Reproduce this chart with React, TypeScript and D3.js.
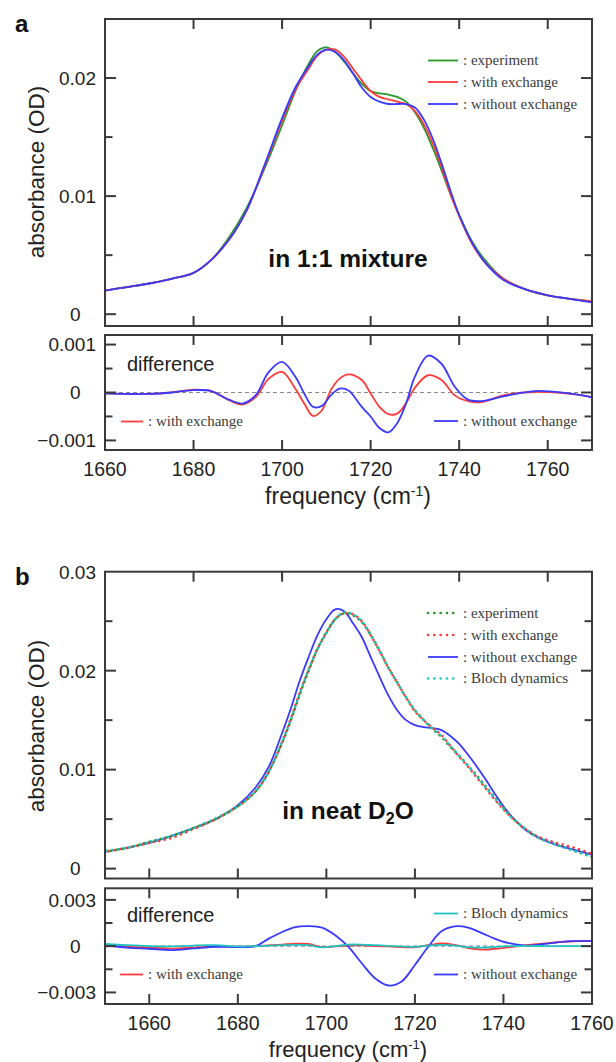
import React from "react";
import * as d3 from "d3";

// ---- panel a : in 1:1 mixture ----
const freqA = [1660,1665,1670,1675,1680,1684,1688,1692,1696,1700,1703,1706,1708,1710,1712,1714,1716,1718,1720,1722,1724,1726,1728,1730,1732,1734,1736,1738,1740,1743,1746,1750,1755,1760,1765,1770];
const expA = [0.0020,0.0023,0.0026,0.0030,0.0035,0.0046,0.0065,0.0090,0.0123,0.0160,0.0189,0.0212,0.0223,0.0226,0.0222,0.0214,0.0204,0.0195,0.0189,0.0187,0.0186,0.0184,0.0180,0.0171,0.0158,0.0141,0.0122,0.0102,0.0084,0.0061,0.0045,0.0030,0.0021,0.0016,0.0013,0.0011];
const withA = [0.0020,0.0023,0.0026,0.0030,0.0035,0.0046,0.0063,0.0088,0.0125,0.0164,0.0190,0.0208,0.0219,0.0224,0.0224,0.0218,0.0208,0.0198,0.0189,0.0184,0.0182,0.0180,0.0178,0.0172,0.0161,0.0145,0.0125,0.0102,0.0083,0.0059,0.0043,0.0030,0.0021,0.0016,0.0013,0.0011];
const withoutA = [0.0020,0.0023,0.0026,0.0030,0.0035,0.0046,0.0063,0.0088,0.0126,0.0166,0.0192,0.0210,0.0220,0.0224,0.0222,0.0215,0.0204,0.0192,0.0184,0.0180,0.0178,0.0178,0.0178,0.0175,0.0165,0.0149,0.0128,0.0105,0.0084,0.0060,0.0043,0.0029,0.0021,0.0016,0.0013,0.0010];

const freqDA = [1660,1665,1670,1675,1680,1684,1688,1691,1694,1697,1700,1703,1705,1707,1709,1711,1713,1715,1718,1720,1722,1724,1726,1728,1730,1733,1736,1739,1742,1745,1750,1757,1764,1770];
const diffWithA = [-0.00002,-0.00003,-0.00003,0.00000,0.00006,0.00003,-0.00016,-0.00025,-0.00010,0.00029,0.00043,0.00008,-0.00023,-0.00049,-0.00037,0.00005,0.00029,0.00038,0.00026,-0.00002,-0.00030,-0.00045,-0.00044,-0.00022,0.00010,0.00036,0.00026,-0.00006,-0.00018,-0.00020,-0.00006,0.00001,-0.00002,-0.00009];
const diffWithoutA = [-0.00002,-0.00003,-0.00003,0.00000,0.00005,0.00003,-0.00015,-0.00023,-0.00006,0.00043,0.00064,0.00033,-0.00002,-0.00030,-0.00028,-0.00006,0.00008,0.00004,-0.00030,-0.00050,-0.00074,-0.00083,-0.00064,-0.00023,0.00033,0.00077,0.00060,0.00012,-0.00015,-0.00018,-0.00008,0.00003,-0.00001,-0.00010];

// ---- panel b : in neat D2O ----
const freqB = [1650,1655,1660,1665,1670,1675,1680,1684,1687,1690,1692,1694,1696,1698,1700,1702,1704,1706,1708,1710,1712,1714,1716,1718,1720,1722,1724,1726,1728,1730,1732,1734,1736,1738,1740,1742,1745,1748,1752,1756,1760];
const expB = [0.0017,0.0021,0.0027,0.0033,0.0041,0.0050,0.0063,0.0078,0.0098,0.0127,0.0150,0.0176,0.0200,0.0222,0.0239,0.0252,0.0258,0.0256,0.0249,0.0236,0.0220,0.0203,0.0188,0.0173,0.0160,0.0150,0.0141,0.0133,0.0123,0.0114,0.0104,0.0094,0.0083,0.0072,0.0061,0.0051,0.0040,0.0031,0.0024,0.0018,0.0012];
const withB = [0.0017,0.0021,0.0026,0.0031,0.0040,0.0050,0.0063,0.0078,0.0098,0.0128,0.0152,0.0178,0.0201,0.0222,0.0238,0.0252,0.0258,0.0257,0.0250,0.0236,0.0220,0.0203,0.0188,0.0173,0.0159,0.0150,0.0142,0.0135,0.0124,0.0113,0.0103,0.0092,0.0081,0.0070,0.0060,0.0051,0.0040,0.0032,0.0026,0.0021,0.0015];
const withoutB = [0.0017,0.0021,0.0026,0.0033,0.0041,0.0050,0.0064,0.0082,0.0103,0.0137,0.0162,0.0190,0.0214,0.0236,0.0252,0.0262,0.0260,0.0248,0.0234,0.0214,0.0194,0.0175,0.0160,0.0150,0.0145,0.0143,0.0142,0.0140,0.0134,0.0126,0.0115,0.0103,0.0090,0.0076,0.0063,0.0052,0.0039,0.0031,0.0024,0.0019,0.0014];
const blochB = [0.0018,0.0021,0.0027,0.0033,0.0041,0.0051,0.0063,0.0078,0.0098,0.0128,0.0151,0.0177,0.0201,0.0222,0.0238,0.0252,0.0259,0.0257,0.0250,0.0237,0.0221,0.0203,0.0188,0.0173,0.0160,0.0150,0.0141,0.0134,0.0124,0.0114,0.0104,0.0093,0.0082,0.0071,0.0061,0.0051,0.0040,0.0031,0.0024,0.0018,0.0012];

const freqDB = [1650,1655,1660,1665,1670,1675,1680,1684,1687,1690,1693,1696,1699,1702,1705,1708,1711,1714,1717,1720,1723,1726,1729,1732,1735,1738,1741,1745,1750,1755,1760];
const diffWithB = [0.00006,-0.00003,-0.00009,-0.00016,-0.00010,-0.00002,-0.00004,0.00000,0.00005,0.00010,0.00016,0.00014,-0.00006,-0.00002,0.00004,0.00005,0.00000,-0.00002,-0.00006,-0.00008,0.00006,0.00018,0.00008,-0.00012,-0.00022,-0.00018,-0.00008,0.00006,0.00020,0.00030,0.00034];
const diffWithoutB = [0.00006,-0.00009,-0.00017,-0.00026,-0.00015,-0.00004,-0.00006,0.00000,0.00049,0.00092,0.00124,0.00130,0.00120,0.00071,-0.00004,-0.00111,-0.00208,-0.00255,-0.00229,-0.00122,-0.00004,0.00096,0.00128,0.00120,0.00086,0.00049,0.00021,0.00004,0.00017,0.00032,0.00034];
const diffBlochB = [0.00014,0.00006,0.00000,-0.00002,0.00004,0.00006,-0.00002,0.00000,0.00004,0.00006,0.00008,0.00006,-0.00008,0.00000,0.00010,0.00010,0.00006,0.00002,-0.00002,-0.00004,0.00004,0.00008,0.00004,-0.00006,-0.00010,-0.00006,0.00000,0.00002,0.00000,0.00000,0.00000];

const xLabels = [1660, 1680, 1700, 1720, 1740, 1760];

const GREEN = "#2a962a";
const RED = "#ff3a3a";
const BLUE = "#3a3aff";
const CYAN = "#20c2c2";
const FRAME = "#3a3a3a";
const SANS = "Liberation Sans, Arial, sans-serif";
const SERIF = "Liberation Serif, Times New Roman, serif";

const L = 105, R = 592;

type Series = { xs: number[]; ys: number[]; color: string; dotted?: boolean; offset?: number };

function Box(props: {
  id: string;
  x: d3.ScaleLinear<number, number>;
  y: d3.ScaleLinear<number, number>;
  topTicks: number[];
  bottomTicks: number[];
  yMajor: number[];
  yMinor: number[];
  yLabels: [number, string][];
  series: Series[];
  zero?: boolean;
}) {
  const { id, x, y } = props;
  const [y0, y1] = y.range();
  const line = (s: Series) =>
    d3.line<number>()
      .x((_, i) => x(s.xs[i]))
      .y((d) => y(d))
      .curve(d3.curveCatmullRom.alpha(0.5))(s.ys) || "";
  return (
    <g>
      <clipPath id={id}>
        <rect x={L} y={y1} width={R - L} height={y0 - y1} />
      </clipPath>
      {props.zero && (
        <line x1={L} x2={R} y1={y(0)} y2={y(0)} stroke="#8a8a8a" strokeWidth={1.2} strokeDasharray="4 3" />
      )}
      <g clipPath={`url(#${id})`}>
        {props.series.map((s, i) => (
          <path key={i} d={line(s)} fill="none" stroke={s.color}
            strokeWidth={s.dotted ? 2.6 : 1.8}
            strokeLinecap={s.dotted ? "round" : "butt"}
            strokeDasharray={s.dotted ? "0.1 5.6" : undefined}
            strokeDashoffset={s.offset || 0} />
        ))}
      </g>
      <rect x={L} y={y1} width={R - L} height={y0 - y1} fill="none" stroke={FRAME} strokeWidth={2} />
      {props.topTicks.map((t) => (
        <line key={"t" + t} x1={x(t)} x2={x(t)} y1={y1} y2={y1 + 10} stroke={FRAME} strokeWidth={2} />
      ))}
      {props.bottomTicks.map((t) => (
        <line key={"b" + t} x1={x(t)} x2={x(t)} y1={y0} y2={y0 - 10} stroke={FRAME} strokeWidth={2} />
      ))}
      {props.yMajor.map((t) => (
        <g key={"m" + t}>
          <line x1={L} x2={L + 11} y1={y(t)} y2={y(t)} stroke={FRAME} strokeWidth={2} />
          <line x1={R} x2={R - 11} y1={y(t)} y2={y(t)} stroke={FRAME} strokeWidth={2} />
        </g>
      ))}
      {props.yMinor.map((t) => (
        <g key={"n" + t}>
          <line x1={L} x2={L + 7.5} y1={y(t)} y2={y(t)} stroke={FRAME} strokeWidth={2} />
          <line x1={R} x2={R - 7.5} y1={y(t)} y2={y(t)} stroke={FRAME} strokeWidth={2} />
        </g>
      ))}
      {props.yLabels.map(([v, s]) => (
        <text key={"l" + v} x={v === 0 ? 80.5 : 96} y={y(v)} dy="0.36em" textAnchor="end"
          fontFamily={SANS} fontSize={19} fill="#222">{s}</text>
      ))}
    </g>
  );
}

function LegendRow(props: { x: number; y: number; color: string; label: string; dotted?: boolean; w?: number }) {
  const w = props.w || 30;
  return (
    <g>
      <line x1={props.x} x2={props.x + w} y1={props.y} y2={props.y} stroke={props.color}
        strokeWidth={props.dotted ? 2.6 : 1.8} strokeLinecap={props.dotted ? "round" : "butt"}
        strokeDasharray={props.dotted ? "0.1 6.2" : undefined} />
      <text x={props.x + w + 5} y={props.y + 4.5} fontFamily={SERIF} fontSize={15} fill="#3c3c3c">
        : {props.label}
      </text>
    </g>
  );
}

export default function App() {
  const xA = d3.scaleLinear().domain([1660, 1770]).range([L, R]);
  const xB = d3.scaleLinear().domain([1650, 1760]).range([L, R]);
  const yA = d3.scaleLinear().domain([-0.001, 0.025]).range([326, 19]);
  const yDA = d3.scaleLinear().domain([-0.0012, 0.0012]).range([450, 335]);
  const yB = d3.scaleLinear().domain([-0.001, 0.03]).range([878.5, 571.7]);
  const yDB = d3.scaleLinear().domain([-0.00375, 0.00375]).range([1004, 888.3]);

  const inner = [1680, 1700, 1720, 1740, 1760];
  const innerB = [1660, 1680, 1700, 1720, 1740];
  const shiftedB = [1670, 1690, 1710, 1730, 1750];

  return (
    <svg width={616} height={1062} style={{ position: "absolute", left: 0, top: 0, background: "#fff" }}>
      {/* panel a */}
      <text x={15} y={32} fontFamily={SANS} fontWeight="bold" fontSize={24} fill="#111">a</text>
      <Box id="ca1" x={xA} y={yA} topTicks={inner} bottomTicks={inner}
        yMajor={[0, 0.01, 0.02]} yMinor={[0.005, 0.015]}
        yLabels={[[0, "0"], [0.01, "0.01"], [0.02, "0.02"]]}
        series={[
          { xs: freqA, ys: expA, color: GREEN },
          { xs: freqA, ys: withA, color: RED },
          { xs: freqA, ys: withoutA, color: BLUE },
        ]} />
      <text transform="translate(44,172) rotate(-90)" textAnchor="middle" fontFamily={SANS} fontSize={22.5} fill="#222">
        absorbance (OD)
      </text>
      <text x={348} y={267} textAnchor="middle" fontFamily={SANS} fontWeight="bold" fontSize={24.5} fill="#111">
        in 1:1 mixture
      </text>
      <LegendRow x={428} y={60.5} color={GREEN} label="experiment" />
      <LegendRow x={428} y={82} color={RED} label="with exchange" />
      <LegendRow x={428} y={104} color={BLUE} label="without exchange" />

      <Box id="ca2" x={xA} y={yDA} topTicks={inner} bottomTicks={inner} zero
        yMajor={[-0.001, 0, 0.001]} yMinor={[-0.0005, 0.0005]}
        yLabels={[[-0.001, "\u22120.001"], [0, "0"], [0.001, "0.001"]]}
        series={[
          { xs: freqDA, ys: diffWithA, color: RED },
          { xs: freqDA, ys: diffWithoutA, color: BLUE },
        ]} />
      <text x={127} y={371} fontFamily={SANS} fontSize={20} fill="#222">difference</text>
      <LegendRow x={121} y={421.5} color={RED} label="with exchange" w={22} />
      <LegendRow x={434} y={421} color={BLUE} label="without exchange" w={24} />
      {xLabels.map((t) => (
        <text key={"xa" + t} x={xA(t)} y={476} textAnchor="middle" fontFamily={SANS} fontSize={19.5} fill="#222">{t}</text>
      ))}
      <text x={348} y={504} textAnchor="middle" fontFamily={SANS} fontSize={23} fill="#222">
        frequency (cm<tspan dy={-8} fontSize={14}>-1</tspan><tspan dy={8}>)</tspan>
      </text>

      {/* panel b */}
      <text x={15} y={585} fontFamily={SANS} fontWeight="bold" fontSize={24} fill="#111">b</text>
      <Box id="cb1" x={xB} y={yB} topTicks={shiftedB} bottomTicks={innerB}
        yMajor={[0, 0.01, 0.02]} yMinor={[0.005, 0.015, 0.025]}
        yLabels={[[0, "0"], [0.01, "0.01"], [0.02, "0.02"], [0.03, "0.03"]]}
        series={[
          { xs: freqB, ys: withoutB, color: BLUE },
          { xs: freqB, ys: expB, color: GREEN, dotted: true, offset: 0 },
          { xs: freqB, ys: withB, color: RED, dotted: true, offset: 1.9 },
          { xs: freqB, ys: blochB, color: CYAN, dotted: true, offset: 3.8 },
        ]} />
      <text transform="translate(44,726) rotate(-90)" textAnchor="middle" fontFamily={SANS} fontSize={22.5} fill="#222">
        absorbance (OD)
      </text>
      <text x={348} y={819} textAnchor="middle" fontFamily={SANS} fontWeight="bold" fontSize={24.5} fill="#111">
        in neat D<tspan dy={5} fontSize={16}>2</tspan><tspan dy={-5}>O</tspan>
      </text>
      <LegendRow x={428} y={613} color={GREEN} label="experiment" dotted />
      <LegendRow x={428} y={635} color={RED} label="with exchange" dotted />
      <LegendRow x={428} y={657} color={BLUE} label="without exchange" />
      <LegendRow x={428} y={678.5} color={CYAN} label="Bloch dynamics" dotted />

      <Box id="cb2" x={xB} y={yDB} topTicks={innerB} bottomTicks={innerB} zero
        yMajor={[-0.003, 0, 0.003]} yMinor={[-0.0015, 0.0015]}
        yLabels={[[-0.003, "\u22120.003"], [0, "0"], [0.003, "0.003"]]}
        series={[
          { xs: freqDB, ys: diffWithB, color: RED },
          { xs: freqDB, ys: diffWithoutB, color: BLUE },
          { xs: freqDB, ys: diffBlochB, color: CYAN },
        ]} />
      <text x={127} y={922} fontFamily={SANS} fontSize={20} fill="#222">difference</text>
      <LegendRow x={434} y={913.5} color={CYAN} label="Bloch dynamics" w={24} />
      <LegendRow x={120} y={974.5} color={RED} label="with exchange" w={23} />
      <LegendRow x={434} y={974.5} color={BLUE} label="without exchange" w={24} />
      {xLabels.map((t) => (
        <text key={"xb" + t} x={xB(t)} y={1030} textAnchor="middle" fontFamily={SANS} fontSize={19.5} fill="#222">{t}</text>
      ))}
      <text x={348} y={1057} textAnchor="middle" fontFamily={SANS} fontSize={22} fill="#222">
        frequency (cm<tspan dy={-8} fontSize={13}>-1</tspan><tspan dy={8}>)</tspan>
      </text>
    </svg>
  );
}
